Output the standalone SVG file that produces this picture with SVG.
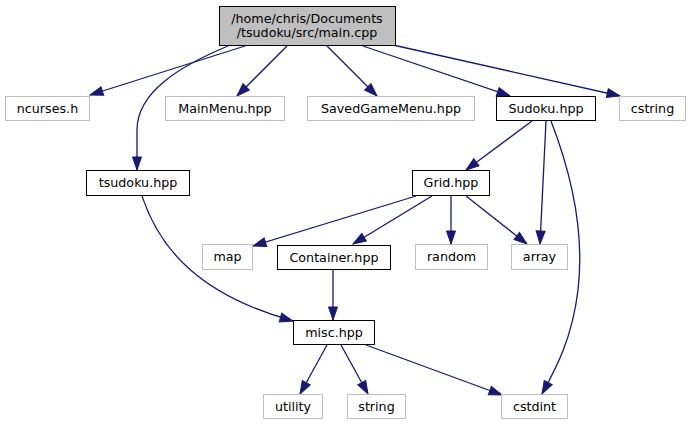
<svg xmlns="http://www.w3.org/2000/svg" width="691" height="425" viewBox="0 0 691 425">
<defs>
<style>
.n rect{fill:#ffffff;stroke:#000000;stroke-width:1}
.x rect{fill:#ffffff;stroke:#bfbfbf;stroke-width:1}
.m rect{fill:#bfbfbf;stroke:#000000;stroke-width:1}
text{font-family:"DejaVu Sans","Liberation Sans",sans-serif;font-size:12.7px;fill:#000000;text-anchor:middle}
.e path{fill:none;stroke:#191970;stroke-width:1.3;marker-end:url(#ah)}
</style>
<marker id="ah" markerUnits="userSpaceOnUse" markerWidth="15" markerHeight="12" refX="14" refY="5.5" orient="auto" viewBox="0 0 15 11">
<path d="M1,1 L14,5.5 L1,10 z" fill="#191970" stroke="#191970" stroke-width="1"/>
</marker>
</defs>
<rect width="691" height="425" fill="#ffffff"/>
<g id="edges" class="e">
<path d="M245,46 L90,95"/>
<path d="M228,46 C180,66 137,92 137,130 L137,170"/>
<path d="M287,46 L237,96"/>
<path d="M327,46 L377,96"/>
<path d="M363,46 L510,96"/>
<path d="M393,45 L620,96"/>
<path d="M532,121 L466,170"/>
<path d="M546,121 L540,244"/>
<path d="M551,121 C570,170 585,230 578,290 C572,340 555,370 542,394"/>
<path d="M416,196 L253,246"/>
<path d="M432,196 L353,244"/>
<path d="M451,196 L451,244"/>
<path d="M466,196 L527,244"/>
<path d="M142,196 C160,250 200,295 293,321"/>
<path d="M333,270 L333,320"/>
<path d="M327,345 L300,394"/>
<path d="M341,345 L368,394"/>
<path d="M366,345 L502,395"/>
</g>
<g id="main" class="m"><rect x="219.5" y="6.5" width="176" height="39"/><text x="307" y="23">/home/chris/Documents</text><text x="307" y="37">/tsudoku/src/main.cpp</text></g>
<g id="ncurses" class="x"><rect x="5.5" y="96.5" width="84" height="24"/><text x="47.5" y="112.5">ncurses.h</text></g>
<g id="mainmenu" class="x"><rect x="165.5" y="96.5" width="119" height="24"/><text x="225" y="112.5">MainMenu.hpp</text></g>
<g id="savedgamemenu" class="x"><rect x="307.5" y="96.5" width="167" height="24"/><text x="391" y="112.5">SavedGameMenu.hpp</text></g>
<g id="sudoku" class="n"><rect x="496.5" y="96.5" width="99" height="24"/><text x="546" y="112.5">Sudoku.hpp</text></g>
<g id="cstring" class="x"><rect x="619.5" y="96.5" width="66" height="24"/><text x="652.5" y="112.5">cstring</text></g>
<g id="tsudoku" class="n"><rect x="86.5" y="170.5" width="103" height="25"/><text x="138" y="187">tsudoku.hpp</text></g>
<g id="grid" class="n"><rect x="412.5" y="170.5" width="77" height="25"/><text x="451" y="187">Grid.hpp</text></g>
<g id="map" class="x"><rect x="202.5" y="244.5" width="50" height="25"/><text x="227.5" y="261">map</text></g>
<g id="container" class="n"><rect x="277.5" y="245.5" width="113" height="24"/><text x="334" y="261.5">Container.hpp</text></g>
<g id="random" class="x"><rect x="415.5" y="244.5" width="72" height="25"/><text x="451.5" y="261">random</text></g>
<g id="array" class="x"><rect x="511.5" y="244.5" width="56" height="25"/><text x="539.5" y="261">array</text></g>
<g id="misc" class="n"><rect x="293.5" y="320.5" width="81" height="24"/><text x="334" y="337">misc.hpp</text></g>
<g id="utility" class="x"><rect x="263.5" y="394.5" width="59" height="24"/><text x="293" y="411">utility</text></g>
<g id="string" class="x"><rect x="347.5" y="394.5" width="58" height="24"/><text x="376.5" y="411">string</text></g>
<g id="cstdint" class="x"><rect x="501.5" y="394.5" width="66" height="24"/><text x="534.5" y="411">cstdint</text></g>
</svg>
